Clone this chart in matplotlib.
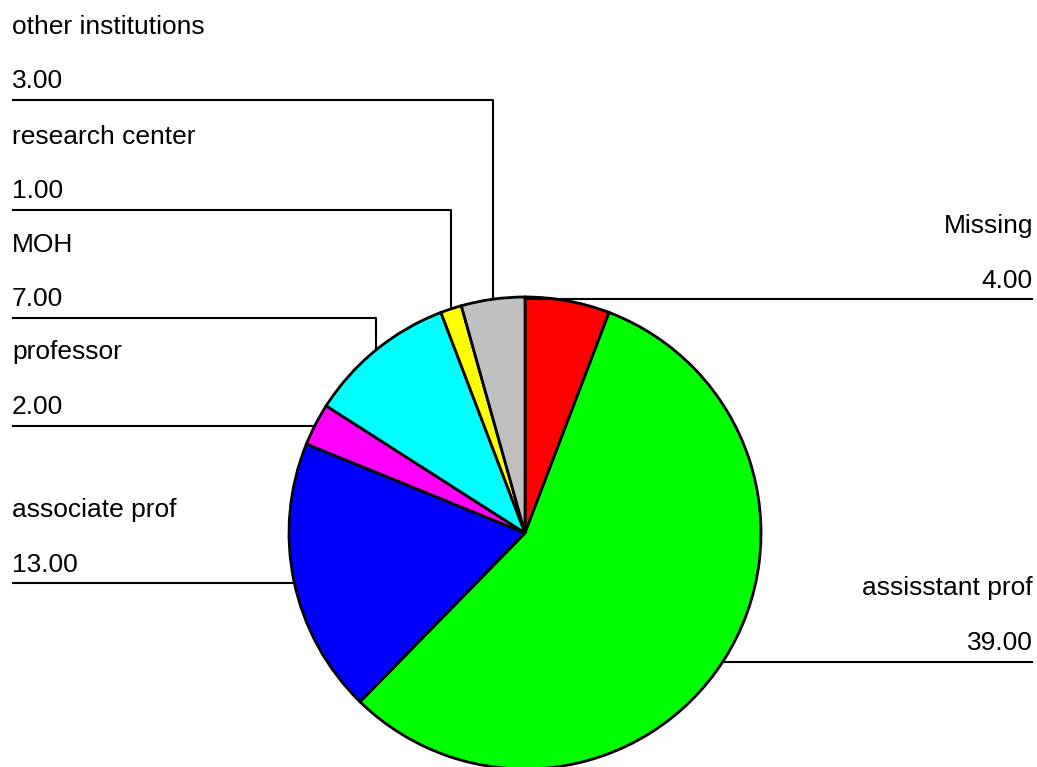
import numpy as np
import matplotlib
matplotlib.use("Agg")
import matplotlib.pyplot as plt

plt.rcParams['font.family'] = ['Liberation Sans', 'DejaVu Sans']

# slices, clockwise from 12 o'clock
labels = ['Missing', 'assisstant prof', 'associate prof', 'professor',
          'MOH', 'research center', 'other institutions']
counts = [4, 39, 13, 2, 7, 1, 3]
colors = ['#ff0000', '#00ff00', '#0000ff', '#ff00ff',
          '#00ffff', '#ffff00', '#c0c0c0']

W, H = 1037, 767
fig = plt.figure(figsize=(W / 100, H / 100), dpi=100)
ax = fig.add_axes([0, 0, 1, 1])

cx, cy, r = 525, H - 533, 236
wedges, _ = ax.pie(counts, colors=colors, startangle=90, counterclock=False,
                   center=(cx, cy), radius=r,
                   wedgeprops=dict(edgecolor='black', linewidth=2.0))

# label rows (pixel y of the leader line, measured from the top)
line_y = {'other institutions': 100, 'research center': 210, 'MOH': 318,
          'professor': 426, 'associate prof': 583,
          'Missing': 299, 'assisstant prof': 662}
x_left, x_right = 12, 1033
fs = 19

for w, name, val in zip(wedges, labels, counts):
    mid = np.deg2rad((w.theta1 + w.theta2) / 2)
    ex, ey = cx + r * np.cos(mid), cy + r * np.sin(mid)
    ly = H - line_y[name]
    if ex < cx:
        ax.plot([x_left, ex, ex], [ly, ly, ey], color='black', lw=1.5,
                solid_capstyle='butt', zorder=3)
        tx, ha = x_left, 'left'
    else:
        if ly >= cy + r - 3:
            # row runs along the top of the pie: start at the slice edge
            ex = cx + r * np.cos(np.deg2rad(w.theta2))
            ey = ly
        ax.plot([ex, ex, x_right], [ey, ly, ly], color='black', lw=1.5,
                solid_capstyle='butt', zorder=3)
        tx, ha = x_right, 'right'
    ax.text(tx, ly + 11.5, f'{val:.2f}', ha=ha, va='baseline', fontsize=fs)
    ax.text(tx, ly + 66.5, name, ha=ha, va='baseline', fontsize=fs)

ax.set_xlim(0, W)
ax.set_ylim(0, H)
ax.set_aspect('equal')
ax.axis('off')

fig.savefig('out.png', dpi=100)
